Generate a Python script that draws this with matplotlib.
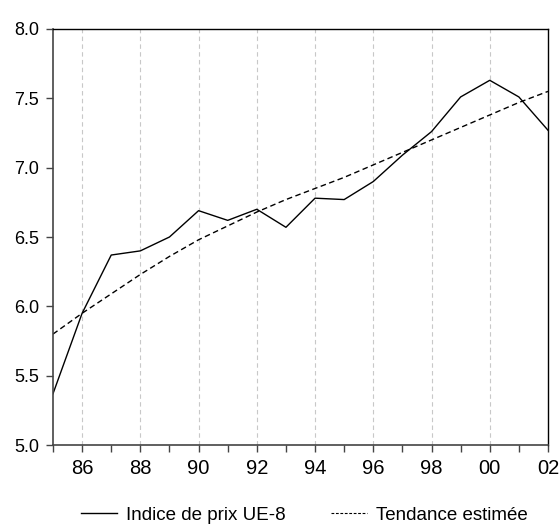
import numpy as np
import matplotlib
matplotlib.use("Agg")
import matplotlib.pyplot as plt
from matplotlib.lines import Line2D

plt.rcParams['font.family'] = ['Liberation Sans', 'DejaVu Sans']

# Data
years = [1985, 1986, 1987, 1988, 1989, 1990, 1991, 1992, 1993,
         1994, 1995, 1996, 1997, 1998, 1999, 2000, 2001, 2002]
indice = [5.37, 5.95, 6.37, 6.40, 6.50, 6.69, 6.62, 6.70, 6.57,
          6.78, 6.77, 6.90, 7.09, 7.26, 7.51, 7.63, 7.51, 7.27]
tendance = [5.80, 5.95, 6.09, 6.23, 6.36, 6.48, 6.58, 6.68, 6.77,
            6.85, 6.93, 7.02, 7.11, 7.20, 7.29, 7.38, 7.47, 7.55]
tick_years = [1986, 1988, 1990, 1992, 1994, 1996, 1998, 2000, 2002]
tick_labels = ['86', '88', '90', '92', '94', '96', '98', '00', '02']
y_ticks = [5.0, 5.5, 6.0, 6.5, 7.0, 7.5, 8.0]

fig = plt.figure(figsize=(5.59, 5.32), dpi=100)
ax = fig.add_axes([0.0948, 0.1635, 0.8855, 0.782])

# vertical grid
for yr in tick_years[:-1]:
    ax.axvline(yr, color='#c8c8c8', lw=0.8, ls=(0, (4, 3)), zorder=0)

ax.plot(years, indice, color='black', lw=1.0)
ax.plot(years, tendance, color='black', lw=1.0, ls=(0, (4, 2.5)))

ax.set_xlim(1985, 2002)
ax.set_ylim(5.0, 8.0)
ax.set_xticks(tick_years)
ax.set_xticklabels(tick_labels)
ax.set_xticks(years, minor=True)
ax.set_yticks(y_ticks)
ax.set_yticklabels([f"{v:.1f}" for v in y_ticks])

ax.tick_params(axis='y', which='major', labelsize=13, length=5, width=1,
               direction='out', color='#444444', pad=5)
ax.tick_params(axis='x', which='major', labelsize=14.5, length=5, width=1,
               direction='out', color='#444444', pad=5)
ax.tick_params(axis='x', which='minor', length=5, width=1, color='#444444')
for s in ['left', 'bottom']:
    ax.spines[s].set_color('#444444')
    ax.spines[s].set_linewidth(1.2)
for s in ['top', 'right']:
    ax.spines[s].set_color('black')
    ax.spines[s].set_linewidth(1.0)

handles = [Line2D([], [], color='black', lw=1.0),
           Line2D([], [], color='black', lw=0.8, ls=(0, (2.5, 1.5)))]
fig.legend(handles, ['Indice de prix UE-8', 'Tendance estimée'],
           loc='center', bbox_to_anchor=(0.545, 0.032), ncol=2, frameon=False,
           fontsize=13.5, handlelength=1.9, handletextpad=0.5, columnspacing=2.4)

fig.savefig('out.png', dpi=100)
